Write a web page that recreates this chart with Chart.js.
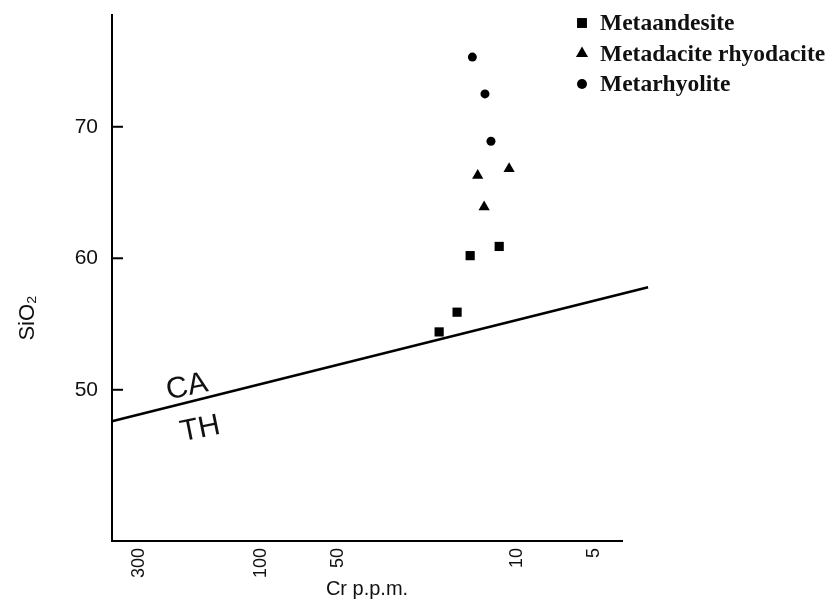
<!DOCTYPE html>
<html>
<head>
<meta charset="utf-8">
<script src="https://cdn.jsdelivr.net/npm/chart.js@4"></script>
<style>
  html, body { margin: 0; padding: 0; background: #fff; }
</style>
</head>
<body>
<canvas id="chart" width="836" height="601"></canvas>
<script>
// SiO2 (wt%) against Cr (ppm)
const seriesNames = ['Metaandesite', 'Metadacite rhyodacite', 'Metarhyolite'];
const andesiteCr = [11.7, 15.2, 17.1, 20.1];
const andesiteSiO2 = [60.9, 60.2, 55.9, 54.4];
const daciteCr = [14.2, 10.7, 13.4];
const daciteSiO2 = [66.3, 66.8, 63.9];
const rhyoliteCr = [14.9, 13.3, 12.6];
const rhyoliteSiO2 = [75.3, 72.5, 68.9];

// CA / TH boundary
const boundaryCr = [383, 3.06];
const boundarySiO2 = [47.6, 57.8];

// field names and where they sit (in data units)
const fieldLabels = ['CA', 'TH'];
const fieldLabelCr = [195, 173];
const fieldLabelSiO2 = [50.2, 47.0];

const xTicks = [300, 100, 50, 10, 5];
const yTicks = [50, 60, 70];
const xRange = [3.87, 383];
const yRange = [38.5, 78.5];

const toPoints = (xs, ys) => xs.map((x, i) => ({ x: x, y: ys[i] }));

const axisFont = { family: '"Liberation Sans", Arial, sans-serif' };

// keep the plot box where the original has it
const noScalePadding = s => {
    s.paddingTop = 0;
    s.paddingBottom = 0;
    s.paddingLeft = 0;
    s.paddingRight = 0;
};

// inward ticks, field names, SiO2 title and the legend
const diagramExtras = {
    id: 'diagramExtras',
    afterDraw(chart) {
        const { ctx, chartArea } = chart;
        const x = chart.scales.x;
        const y = chart.scales.y;
        ctx.save();
        ctx.strokeStyle = '#000';
        ctx.fillStyle = '#111';
        ctx.lineWidth = 2;

        yTicks.forEach(v => {
            const py = y.getPixelForValue(v);
            ctx.beginPath();
            ctx.moveTo(chartArea.left, py);
            ctx.lineTo(chartArea.left + 11, py);
            ctx.stroke();
        });

        ctx.textAlign = 'center';
        ctx.textBaseline = 'middle';
        ctx.font = '30px "Liberation Sans", Arial, sans-serif';
        fieldLabels.forEach((t, i) => {
            ctx.save();
            ctx.translate(x.getPixelForValue(fieldLabelCr[i]), y.getPixelForValue(fieldLabelSiO2[i]));
            ctx.rotate(-0.2);
            ctx.fillText(t, 0, 0);
            ctx.restore();
        });

        ctx.save();
        ctx.translate(28, 318);
        ctx.rotate(-Math.PI / 2);
        ctx.font = '22px "Liberation Sans", Arial, sans-serif';
        ctx.fillText('SiO\u2082', 0, 0);
        ctx.restore();

        // legend, top right
        ctx.textAlign = 'left';
        ctx.font = 'bold 23.5px "Liberation Serif", "Times New Roman", serif';
        chart.data.datasets.filter(ds => !ds.isBoundary).forEach((ds, i) => {
            const cy = 23 + i * 30.5;
            ctx.fillStyle = '#000';
            Chart.helpers.drawPoint(ctx, {
                pointStyle: ds.pointStyle,
                radius: ds.pointRadius + 0.5,
                rotation: 0,
                borderWidth: 0
            }, 582, cy);
            ctx.fillStyle = '#111';
            ctx.fillText(ds.label, 600, cy + 1);
        });
        ctx.restore();
    }
};

new Chart(document.getElementById('chart'), {
    type: 'scatter',
    data: {
        datasets: [
            {
                label: seriesNames[0],
                data: toPoints(andesiteCr, andesiteSiO2),
                pointStyle: 'rect',
                pointRadius: 6.5,
                backgroundColor: '#000',
                borderColor: '#000',
                borderWidth: 0
            },
            {
                label: seriesNames[1],
                data: toPoints(daciteCr, daciteSiO2),
                pointStyle: 'triangle',
                pointRadius: 6.5,
                backgroundColor: '#000',
                borderColor: '#000',
                borderWidth: 0
            },
            {
                label: seriesNames[2],
                data: toPoints(rhyoliteCr, rhyoliteSiO2),
                pointStyle: 'circle',
                pointRadius: 4.5,
                backgroundColor: '#000',
                borderColor: '#000',
                borderWidth: 0
            },
            {
                label: 'CA/TH',
                isBoundary: true,
                data: toPoints(boundaryCr, boundarySiO2),
                showLine: true,
                pointRadius: 0,
                borderColor: '#000',
                borderWidth: 2.5,
                clip: false
            }
        ]
    },
    options: {
        responsive: false,
        animation: false,
        devicePixelRatio: 1,
        layout: { padding: { top: 15, right: 214, left: 0, bottom: 0 } },
        plugins: {
            legend: { display: false },
            tooltip: { enabled: false }
        },
        scales: {
            x: {
                type: 'logarithmic',
                reverse: true,
                min: xRange[0],
                max: xRange[1],
                grid: { display: false, tickLength: 0 },
                border: { display: true, color: '#000', width: 2 },
                ticks: {
                    autoSkip: false,
                    minRotation: 90,
                    maxRotation: 90,
                    padding: 7,
                    color: '#111',
                    font: { ...axisFont, size: 18 },
                    callback: v => String(v)
                },
                title: {
                    display: true,
                    text: 'Cr p.p.m.',
                    color: '#111',
                    padding: 0,
                    font: { ...axisFont, size: 20 }
                },
                afterBuildTicks: s => { s.ticks = xTicks.map(v => ({ value: v })); },
                afterFit: s => {
                    s.height = 60;
                    noScalePadding(s);
                }
            },
            y: {
                type: 'linear',
                min: yRange[0],
                max: yRange[1],
                grid: { display: false, tickLength: 0 },
                border: { display: true, color: '#000', width: 2 },
                ticks: {
                    padding: 14,
                    color: '#111',
                    font: { ...axisFont, size: 21 }
                },
                afterBuildTicks: s => { s.ticks = yTicks.map(v => ({ value: v })); },
                afterFit: s => {
                    s.width = 112;
                    noScalePadding(s);
                }
            }
        }
    },
    plugins: [diagramExtras]
});
</script>
</body>
</html>
